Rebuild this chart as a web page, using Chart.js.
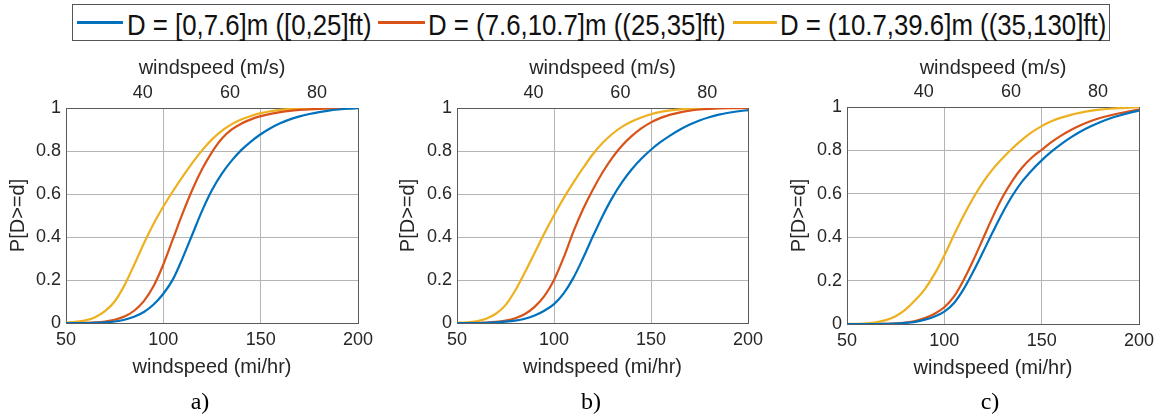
<!DOCTYPE html>
<html>
<head>
<meta charset="utf-8">
<script src="https://cdn.jsdelivr.net/npm/chart.js@4.4.1/dist/chart.umd.min.js"></script>
<style>
html,body{margin:0;padding:0;background:#fff;width:1166px;height:418px;overflow:hidden;position:relative;}
.panel{position:absolute;top:50px;width:390px;height:368px;}
#legendBox{position:absolute;left:72px;top:4px;width:1036px;height:35px;border:1.5px solid #555;}
.swatch{position:absolute;top:21px;height:3px;}
.ltext{position:absolute;top:10px;font-family:"Liberation Sans",Arial,sans-serif;font-size:30px;line-height:30px;color:#111;white-space:nowrap;transform:scaleX(0.86);transform-origin:left center;}
.sub{position:absolute;top:389px;width:60px;text-align:center;font-family:"Liberation Serif","Times New Roman",serif;font-size:24px;line-height:24px;color:#000;}
</style>
</head>
<body>
<div id="legendBox"></div>
<div class="swatch" style="left:77px;width:46px;background:#0072BD"></div>
<div class="ltext" style="left:127px">D = [0,7.6]m ([0,25]ft)</div>
<div class="swatch" style="left:378px;width:47px;background:#D95319"></div>
<div class="ltext" style="left:428px">D = (7.6,10.7]m ((25,35]ft)</div>
<div class="swatch" style="left:733px;width:44px;background:#EDB120"></div>
<div class="ltext" style="left:780px">D = (10.7,39.6]m ((35,130]ft)</div>

<canvas id="cA" class="panel" style="left:0px" width="390" height="368"></canvas>
<canvas id="cB" class="panel" style="left:390px" width="390" height="368"></canvas>
<canvas id="cC" class="panel" style="left:776px" width="390" height="368"></canvas>

<div class="sub" style="left:170px">a)</div>
<div class="sub" style="left:561px">b)</div>
<div class="sub" style="left:960px">c)</div>

<script>
// ---- data ----
const windspeedMph = [50,55,60,65,70,75,80,85,90,95,100,105,110,115,120,125,130,135,140,145,150,155,160,165,170,175,180,185,190,195,200];
const mphTicks = [50,100,150,200];
const msTicks = [40,60,80];
const probTicks = [0,0.2,0.4,0.6,0.8,1];
const MPH_PER_MS = 2.23694;

const seriesLabels = ["D = [0,7.6]m ([0,25]ft)","D = (7.6,10.7]m ((25,35]ft)","D = (10.7,39.6]m ((35,130]ft)"];
const seriesColors = ["#0072BD","#D95319","#EDB120"];

// panel a
const blueA   = [0,0,0,0.001,0.003,0.007,0.015,0.029,0.051,0.086,0.136,0.204,0.304,0.414,0.524,0.619,0.694,0.754,0.804,0.844,0.878,0.906,0.929,0.947,0.961,0.972,0.981,0.988,0.993,0.997,0.999];
const redA    = [0,0,0.001,0.003,0.007,0.015,0.03,0.057,0.102,0.172,0.272,0.392,0.512,0.622,0.717,0.795,0.857,0.899,0.927,0.947,0.962,0.973,0.981,0.987,0.991,0.994,0.996,0.997,0.998,0.999,1];
const yellowA = [0.002,0.005,0.012,0.027,0.055,0.1,0.175,0.27,0.37,0.462,0.542,0.614,0.682,0.746,0.804,0.854,0.894,0.924,0.946,0.963,0.976,0.985,0.991,0.995,0.997,0.998,0.999,1,1,1,1];
// panel b
const blueB   = [0,0,0,0.001,0.003,0.006,0.011,0.02,0.035,0.057,0.088,0.138,0.21,0.302,0.402,0.497,0.582,0.654,0.714,0.764,0.806,0.842,0.873,0.9,0.923,0.942,0.957,0.969,0.978,0.985,0.99];
const redB    = [0,0,0.001,0.002,0.005,0.011,0.022,0.042,0.075,0.125,0.2,0.305,0.425,0.53,0.62,0.70,0.768,0.824,0.869,0.905,0.933,0.954,0.969,0.98,0.988,0.993,0.996,0.998,0.999,0.999,1];
const yellowB = [0.001,0.003,0.008,0.02,0.043,0.083,0.151,0.236,0.326,0.416,0.501,0.581,0.653,0.721,0.785,0.837,0.879,0.912,0.937,0.956,0.971,0.982,0.989,0.994,0.997,0.999,0.999,1,1,1,1];
// panel c
const blueC   = [0,0,0,0,0.001,0.002,0.005,0.01,0.02,0.035,0.057,0.097,0.162,0.244,0.334,0.426,0.514,0.592,0.657,0.709,0.754,0.794,0.829,0.86,0.887,0.91,0.93,0.947,0.961,0.973,0.983];
const redC    = [0,0,0,0,0.001,0.003,0.007,0.014,0.027,0.047,0.077,0.127,0.204,0.296,0.396,0.496,0.586,0.661,0.721,0.767,0.803,0.838,0.868,0.894,0.916,0.934,0.949,0.961,0.971,0.98,0.988];
const yellowC = [0,0.001,0.003,0.008,0.018,0.036,0.066,0.109,0.161,0.231,0.316,0.411,0.501,0.583,0.655,0.715,0.765,0.81,0.85,0.884,0.912,0.934,0.951,0.964,0.974,0.982,0.988,0.992,0.995,0.997,0.999];

// ---- chart builder ----
const FONT = '"Liberation Sans", Arial, sans-serif';
const TEXT = '#262626';
const GRID = '#b4b4b4';
const AXIS = '#5a5a5a';

function makePanel(id, series, g) {
  const datasets = series.map((vals, k) => ({
    label: seriesLabels[k],
    data: windspeedMph.map((x, i) => ({x: x, y: vals[i]})),
    borderColor: seriesColors[k],
    backgroundColor: seriesColors[k],
    borderWidth: 2.2,
    pointRadius: 0,
    cubicInterpolationMode: 'monotone',
    fill: false
  }));
  new Chart(document.getElementById(id), {
    type: 'line',
    data: { datasets: datasets },
    options: {
      responsive: false, animation: false, devicePixelRatio: 1,
      layout: { padding: { left: 0, right: g.rightPad, top: 0, bottom: g.bottomPad } },
      plugins: { legend: { display: false }, tooltip: { enabled: false } },
      scales: {
        x: {
          type: 'linear', position: 'bottom', min: 50, max: 200,
          afterBuildTicks: s => { s.ticks = mphTicks.map(v => ({value: v})); },
          afterFit: s => { s.height = 56; },
          ticks: { color: TEXT, font: { family: FONT, size: 18 }, padding: 6, maxRotation: 0, callback: v => String(v) },
          grid: { color: GRID, lineWidth: 1, drawTicks: false },
          border: { display: true, color: AXIS, width: 1 },
          title: { display: true, text: 'windspeed (mi/hr)', color: TEXT, font: { family: FONT, size: 20 }, padding: { top: 0, bottom: 0 } }
        },
        x2: {
          type: 'linear', position: 'top', min: 50 / MPH_PER_MS, max: 200 / MPH_PER_MS,
          afterBuildTicks: s => { s.ticks = msTicks.map(v => ({value: v})); },
          afterFit: s => { s.height = g.topH; },
          ticks: { color: TEXT, font: { family: FONT, size: 18 }, padding: 4, maxRotation: 0, callback: v => String(v) },
          grid: { display: false, drawTicks: false },
          border: { display: true, color: AXIS, width: 1 },
          title: { display: true, text: 'windspeed (m/s)', color: TEXT, font: { family: FONT, size: 20 }, padding: { top: 6, bottom: 0 } }
        },
        y: {
          type: 'linear', position: 'left', min: 0, max: 1,
          afterBuildTicks: s => { s.ticks = probTicks.map(v => ({value: v})); },
          afterFit: s => { s.width = g.yW; },
          ticks: { color: TEXT, font: { family: FONT, size: 18 }, padding: 5, callback: v => String(Math.round(v * 10) / 10) },
          grid: { color: GRID, lineWidth: 1, drawTicks: false },
          border: { display: true, color: AXIS, width: 1 },
          title: { display: true, text: 'P[D>=d]', color: TEXT, font: { family: FONT, size: 20 }, padding: { top: g.yTitlePad, bottom: 0 } }
        },
        y2: {
          type: 'linear', position: 'right', min: 0, max: 1,
          afterFit: s => { s.width = 0; },
          ticks: { display: false },
          grid: { display: false, drawTicks: false },
          border: { display: true, color: AXIS, width: 1 }
        }
      }
    }
  });
}

makePanel('cA', [blueA, redA, yellowA], { yW: 66, rightPad: 32, topH: 58, bottomPad: 39, yTitlePad: 6 });
makePanel('cB', [blueB, redB, yellowB], { yW: 67, rightPad: 32, topH: 58, bottomPad: 39, yTitlePad: 6 });
makePanel('cC', [blueC, redC, yellowC], { yW: 71, rightPad: 27, topH: 57, bottomPad: 38, yTitlePad: 11 });
</script>
</body>
</html>
